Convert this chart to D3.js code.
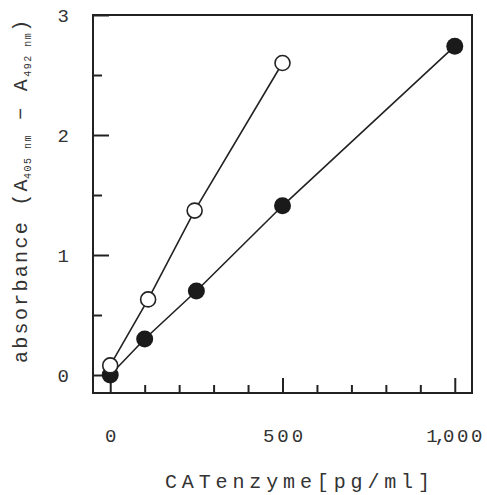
<!DOCTYPE html>
<html>
<head>
<meta charset="utf-8">
<script src="https://cdn.jsdelivr.net/npm/d3@7"></script>
<style>
  body { margin: 0; background: #fff; }
  svg text { font-family: "Liberation Mono", "DejaVu Sans Mono", monospace; fill: #333; }
</style>
</head>
<body>
<div id="chart"></div>
<script>
// data
const concentrations = [0, 100, 250, 500, 1000]
const filledValues = [0.0, 0.30, 0.70, 1.41, 2.74]
const openConcentrations = [0, 110, 245, 500]
const openValues = [0.08, 0.63, 1.37, 2.60]
const xMajorTicks = [0, 500, 1000]
const xMinorTicks = [100, 200, 300, 400, 600, 700, 800, 900]
const yMajorTicks = [0, 1, 2, 3]
const yMinorTicks = [0.5, 1.5, 2.5]
const xTickLabels = ['0', '500', '1,000']

const width = 487, height = 495
const margin = {top: 15, right: 15, bottom: 102, left: 93}

const svg = d3.select('#chart').append('svg')
    .attr('width', width)
    .attr('height', height)

const x = d3.scaleLinear().domain([-50, 1050]).range([margin.left, width - margin.right])
const y = d3.scaleLinear().domain([-0.15, 3]).range([height - margin.bottom, margin.top])

const filled = concentrations.map((c, i) => ({x: c, y: filledValues[i]}))
const open = openConcentrations.map((c, i) => ({x: c, y: openValues[i]}))

// frame
svg.append('rect')
    .attr('x', x.range()[0])
    .attr('y', y.range()[1])
    .attr('width', x.range()[1] - x.range()[0])
    .attr('height', y.range()[0] - y.range()[1])
    .attr('fill', 'none')
    .attr('stroke', '#222')
    .attr('stroke-width', 2)

const styleAxis = g => {
    g.select('.domain').remove()
    g.selectAll('line').attr('stroke', '#222').attr('stroke-width', 2)
}

// y axis (ticks pointing inwards)
svg.append('g')
    .attr('transform', `translate(${x.range()[0]},0)`)
    .call(d3.axisLeft(y).tickValues(yMinorTicks).tickSize(-9).tickFormat(''))
    .call(styleAxis)

svg.append('g')
    .attr('transform', `translate(${x.range()[0]},0)`)
    .call(d3.axisLeft(y).tickValues(yMajorTicks).tickSize(-16).tickPadding(24).tickFormat(d3.format('d')))
    .call(styleAxis)
    .selectAll('text')
        .attr('font-size', 19)
        .attr('font-family', '"Liberation Mono", monospace')
        .attr('fill', '#333')

// x axis
const xBase = y.range()[0]
svg.append('g')
    .attr('transform', `translate(0,${xBase})`)
    .call(d3.axisBottom(x).tickValues(xMinorTicks).tickSize(-8).tickFormat(''))
    .call(styleAxis)

const xLabels = svg.append('g')
    .attr('transform', `translate(0,${xBase})`)
    .call(d3.axisBottom(x).tickValues(xMajorTicks).tickSize(-15).tickPadding(36).tickFormat(''))
    .call(styleAxis)
    .selectAll('text')
        .attr('font-size', 19)
        .attr('font-family', '"Liberation Mono", monospace')
        .attr('fill', '#333')

// wide spacing, thousands comma pulled tight to the "1" as in the original
xLabels.each(function(d, i) {
    const t = d3.select(this)
    const label = xTickLabels[i]
    const k = label.indexOf(',')
    if (k < 0) {
        t.style('letter-spacing', '2.9px').attr('dx', 1.5).text(label)
        return
    }
    t.attr('text-anchor', 'start').attr('x', -29)
    t.append('tspan').style('letter-spacing', '-3px').text(label.slice(0, k + 1))
    t.append('tspan').style('letter-spacing', '2.6px').text(label.slice(k + 1))
})

// x title
svg.append('text')
    .attr('x', 165)
    .attr('y', 488)
    .attr('font-size', 20)
    .attr('textLength', 265)
    .attr('lengthAdjust', 'spacing')
    .text('CATenzyme[pg/ml]')

// y title with subscripts
const yTitle = svg.append('text')
    .attr('transform', `translate(27,363) rotate(-90)`)
    .attr('font-size', 20)
yTitle.append('tspan').style('letter-spacing', '2.3px').text('absorbance (A')
yTitle.append('tspan').attr('font-size', 10).attr('dx', -2).attr('dy', 4).style('letter-spacing', '1.5px').text('405 nm')
yTitle.append('tspan').attr('dy', -4).style('letter-spacing', '2.3px').text(' \u2212 A')
yTitle.append('tspan').attr('font-size', 10).attr('dy', 4).style('letter-spacing', '1.5px').text('492 nm')
yTitle.append('tspan').attr('dy', -4).text(')')

const line = d3.line().x(d => x(d.x)).y(d => y(d.y))

svg.append('path')
    .datum(filled)
    .attr('d', line)
    .attr('fill', 'none')
    .attr('stroke', '#222')
    .attr('stroke-width', 1.6)

svg.append('path')
    .datum(open)
    .attr('d', line)
    .attr('fill', 'none')
    .attr('stroke', '#222')
    .attr('stroke-width', 1.6)

svg.selectAll('circle.filled')
    .data(filled)
    .enter().append('circle')
    .attr('class', 'filled')
    .attr('cx', d => x(d.x))
    .attr('cy', d => y(d.y))
    .attr('r', 8.5)
    .attr('fill', '#1a1a1a')

svg.selectAll('circle.open')
    .data(open)
    .enter().append('circle')
    .attr('class', 'open')
    .attr('cx', d => x(d.x))
    .attr('cy', d => y(d.y))
    .attr('r', 7.5)
    .attr('fill', '#fff')
    .attr('stroke', '#222')
    .attr('stroke-width', 1.6)
</script>
</body>
</html>
